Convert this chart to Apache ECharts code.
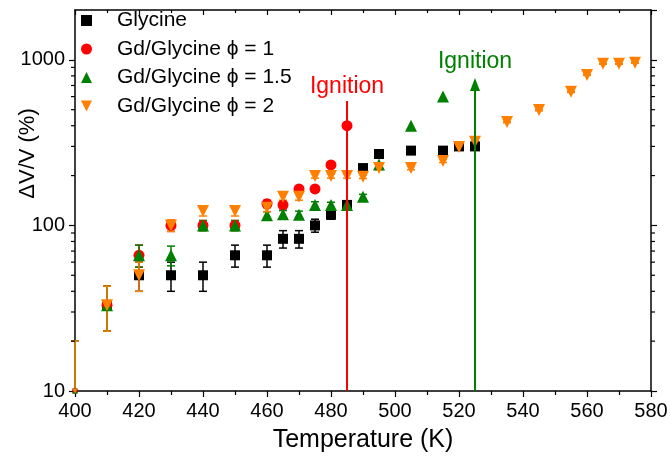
<!DOCTYPE html>
<html>
<head>
<meta charset="utf-8">
<script src="https://cdn.jsdelivr.net/npm/echarts@6/dist/echarts.min.js"></script>
<style>html,body{margin:0;padding:0;background:#fff}#c{width:670px;height:456px}</style>
</head>
<body>
<div id="c"></div>
<script>
// ---- data ----
const SERIES_NAMES = ['Glycine', 'Gd/Glycine \u03D5 = 1', 'Gd/Glycine \u03D5 = 1.5', 'Gd/Glycine \u03D5 = 2'];

const T_GLY = [400, 410, 420, 430, 440, 450, 460, 465, 470, 475, 480, 485, 490, 495, 505, 515, 520, 525];
const V_GLY = [10, 33, 50, 50, 50, 66, 66, 83, 83, 100, 116, 133, 222, 270, 283, 283, 300, 300];
const E_GLY = [0, 10, 10, 10, 10, 10, 10, 10, 10, 9, 7, 6, 5, 4, 3, 3, 3, 3];

const T_PHI1 = [400, 410, 420, 430, 440, 450, 460, 465, 470, 475, 480, 485];
const V_PHI1 = [10, 33, 66, 100, 100, 100, 135, 133, 166, 166, 232, 400];
const E_PHI1 = [10, 10, 10, 8, 7, 7, 7, 7, 6, 6, 5, 0];

const T_PHI15 = [400, 410, 420, 430, 440, 450, 460, 465, 470, 475, 480, 485, 490, 495, 505, 515];
const V_PHI15 = [10, 33, 66, 66, 100, 100, 115, 117, 116, 133, 133, 133, 149, 233, 400, 600];
const E_PHI15 = [10, 10, 10, 9, 7, 7, 6, 6, 6, 6, 5, 5, 5, 4, 0, 0];

const T_PHI2 = [400, 410, 420, 430, 440, 450, 460, 465, 470, 475, 480, 485, 490, 495, 505, 515, 520, 525, 535, 545, 555, 560, 565, 570, 575];
const V_PHI2 = [10, 33, 50, 100, 122, 122, 128, 149, 149, 199, 199, 199, 197, 222, 222, 245, 298, 320, 422, 497, 641, 811, 946, 946, 960];
const E_PHI2 = [10, 10, 10, 8, 8, 8, 7, 7, 7, 6, 6, 6, 5, 5, 5, 5, 5, 5, 5, 5, 5, 5, 5, 5, 5];

const IGNITION_PHI1 = [485, 565];   // [temperature, top of line]
const IGNITION_PHI15 = [525, 710];

const X_MIN = 400, X_MAX = 580, X_STEP = 20;
const Y_MIN = 10, Y_MAX = 2000;
const Y_MINOR_TICKS = [20, 30, 40, 50, 60, 70, 80, 90, 200, 300, 400, 500, 600, 700, 800, 900];

// ---- chart ----
const FONT = "'Liberation Sans', Arial, sans-serif";
const COLORS = ['#000000', '#FF0000', '#008000', '#FF8000'];
const DOWN_TRIANGLE = 'path://M0,0 L10,0 L5,10 Z';

function rows(T, V, E) { return T.map((t, i) => [t, V[i], E[i]]); }

function errSeries(idx, T, V, E) {
  const color = COLORS[idx];
  return {
    type: 'custom', name: 'err' + idx, silent: true, z: 2,
    data: rows(T, V, E),
    encode: { x: 0, y: 1 },
    renderItem: function (params, api) {
      const x = api.value(0), v = api.value(1), e = api.value(2);
      if (!e) return null;
      const lo = Math.max(v - e, Y_MIN);
      const pt = api.coord([x, v + e]);
      const pb = api.coord([x, lo]);
      const cw = 4;
      const st = { stroke: color, lineWidth: 1.5 };
      const ch = [
        { type: 'line', shape: { x1: pt[0], y1: pt[1], x2: pb[0], y2: pb[1] }, style: st },
        { type: 'line', shape: { x1: pt[0] - cw, y1: pt[1], x2: pt[0] + cw, y2: pt[1] }, style: st }
      ];
      if (v - e > Y_MIN) ch.push({ type: 'line', shape: { x1: pb[0] - cw, y1: pb[1], x2: pb[0] + cw, y2: pb[1] }, style: st });
      return { type: 'group', children: ch };
    }
  };
}

function sizeFn(base) { return function (val) { return val[0] === X_MIN ? 5 : base; }; }

const ticksSeries = {
  type: 'custom', name: 'yminor', silent: true, z: 10,
  data: Y_MINOR_TICKS.map(v => [X_MIN, v]),
  encode: { x: 0, y: 1 },
  clip: false,
  renderItem: function (params, api) {
    const v = api.value(1);
    const pl = api.coord([X_MIN, v]);
    const pr = api.coord([X_MAX, v]);
    const st = { stroke: '#000', lineWidth: 1.2 };
    return {
      type: 'group', children: [
        { type: 'line', shape: { x1: pl[0] - 4, y1: pl[1], x2: pl[0], y2: pl[1] }, style: st },
        { type: 'line', shape: { x1: pr[0], y1: pr[1], x2: pr[0] + 4, y2: pr[1] }, style: st }
      ]
    };
  }
};

const axisLineStyle = { lineStyle: { color: '#000', width: 1.5 } };

const option = {
  animation: false,
  backgroundColor: '#fff',
  textStyle: { fontFamily: FONT },
  grid: { left: 75, right: 19, top: 10, bottom: 65, containLabel: false, outerBoundsMode: 'none' },
  legend: {
    data: [
      { name: SERIES_NAMES[0], icon: 'rect' },
      { name: SERIES_NAMES[1], icon: 'circle' },
      { name: SERIES_NAMES[2], icon: 'triangle' },
      { name: SERIES_NAMES[3], icon: DOWN_TRIANGLE }
    ],
    orient: 'vertical', left: 81, top: 10, padding: 0,
    itemGap: 7.5, itemWidth: 11, itemHeight: 11,
    textStyle: { fontSize: 21, color: '#000', fontFamily: FONT, padding: [0, 0, 0, 20] },
    itemStyle: { opacity: 1 },
    selectedMode: false
  },
  xAxis: [{
    type: 'value', min: X_MIN, max: X_MAX, interval: X_STEP,
    name: 'Temperature (K)', nameLocation: 'middle', nameGap: 37, nameMoveOverlap: false,
    nameTextStyle: { fontSize: 25, color: '#000', fontFamily: FONT },
    axisLine: axisLineStyle,
    axisTick: { show: true, inside: false, length: 6, lineStyle: { color: '#000', width: 1.2 } },
    minorTick: { show: true, splitNumber: 2, length: 4, lineStyle: { color: '#000', width: 1.2 } },
    axisLabel: { fontSize: 20, color: '#000', margin: 10, fontFamily: FONT },
    splitLine: { show: false }
  }, {
    type: 'value', min: X_MIN, max: X_MAX, interval: X_STEP, position: 'top',
    axisLine: axisLineStyle,
    axisTick: { show: true, inside: true, length: 5, lineStyle: { color: '#000', width: 1.2 } },
    minorTick: { show: true, splitNumber: 2, length: 3, lineStyle: { color: '#000', width: 1.2 } },
    axisLabel: { show: false }, splitLine: { show: false }
  }],
  yAxis: [{
    type: 'log', logBase: 10, min: Y_MIN, max: Y_MAX,
    name: '\u0394V/V (%)', nameLocation: 'middle', nameGap: 36, nameMoveOverlap: false,
    nameTextStyle: { fontSize: 22, color: '#000', fontFamily: FONT, padding: [0, 0, 0, 94] },
    axisLine: axisLineStyle,
    axisTick: { show: true, inside: false, length: 6, lineStyle: { color: '#000', width: 1.2 } },
    axisLabel: { fontSize: 20, color: '#000', margin: 10, showMaxLabel: false, fontFamily: FONT,
      formatter: function (v) { return [10, 100, 1000].indexOf(Math.round(v)) >= 0 ? String(Math.round(v)) : ''; } },
    splitLine: { show: false }
  }, {
    type: 'log', logBase: 10, min: Y_MIN, max: Y_MAX, position: 'right',
    axisLine: axisLineStyle,
    axisTick: { show: true, inside: false, length: 6, lineStyle: { color: '#000', width: 1.2 } },
    axisLabel: { show: false }, splitLine: { show: false }
  }],
  series: [
    errSeries(0, T_GLY, V_GLY, E_GLY),
    { type: 'scatter', name: SERIES_NAMES[0], z: 3, symbol: 'rect', symbolSize: sizeFn(10),
      itemStyle: { color: COLORS[0], opacity: 1 }, data: rows(T_GLY, V_GLY, E_GLY) },
    errSeries(1, T_PHI1, V_PHI1, E_PHI1),
    { type: 'scatter', name: SERIES_NAMES[1], z: 3, symbol: 'circle', symbolSize: sizeFn(11),
      itemStyle: { color: COLORS[1], opacity: 1 }, data: rows(T_PHI1, V_PHI1, E_PHI1),
      markLine: {
        silent: true, symbol: ['none', 'none'], animation: false,
        lineStyle: { color: '#FF0000', width: 2, type: 'solid' },
        label: { show: true, position: 'end', formatter: 'Ignition', color: '#FF0000', fontSize: 23, fontFamily: FONT, distance: 3 },
        data: [[{ coord: [IGNITION_PHI1[0], Y_MIN] }, { coord: [IGNITION_PHI1[0], IGNITION_PHI1[1]] }]]
      } },
    errSeries(2, T_PHI15, V_PHI15, E_PHI15),
    { type: 'scatter', name: SERIES_NAMES[2], z: 3, symbol: 'triangle', symbolSize: sizeFn(12),
      itemStyle: { color: COLORS[2], opacity: 1 }, data: rows(T_PHI15, V_PHI15, E_PHI15),
      markLine: {
        silent: true, symbol: ['none', 'triangle'], symbolSize: [10, 13], animation: false,
        lineStyle: { color: '#008000', width: 2, type: 'solid' },
        label: { show: true, position: 'end', formatter: 'Ignition', color: '#008000', fontSize: 23, fontFamily: FONT, distance: 11 },
        data: [[{ coord: [IGNITION_PHI15[0], Y_MIN] }, { coord: [IGNITION_PHI15[0], IGNITION_PHI15[1]] }]]
      } },
    errSeries(3, T_PHI2, V_PHI2, E_PHI2),
    { type: 'scatter', name: SERIES_NAMES[3], z: 3, symbol: 'triangle', symbolRotate: 180, symbolSize: sizeFn(12),
      itemStyle: { color: COLORS[3], opacity: 1 }, data: rows(T_PHI2, V_PHI2, E_PHI2) },
    ticksSeries
  ]
};

const chart = echarts.init(document.getElementById('c'), null, { renderer: 'canvas' });
chart.setOption(option);
</script>
</body>
</html>
